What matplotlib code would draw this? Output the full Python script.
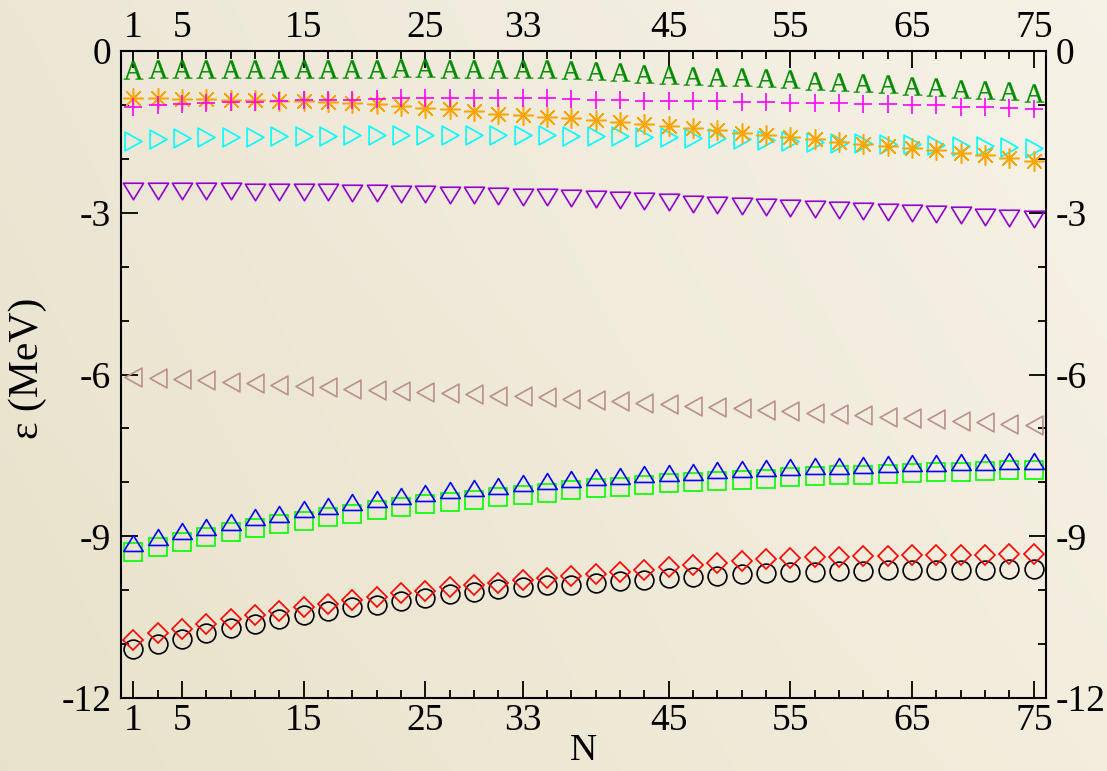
"""
Single-particle energies vs N: ten marker series on a Grace-style frame
with a warm beige gradient background. Saves out.png.
"""

import numpy as np
import matplotlib as mpl
mpl.use("Agg")
import matplotlib.pyplot as plt
from matplotlib.path import Path
from matplotlib.ticker import FixedLocator, MultipleLocator

# ---- data ----------------------------------------------------------------
n_vals = list(range(1, 76, 2))

black_circles = [-11.10, -10.99, -10.91, -10.79, -10.70, -10.62, -10.53, -10.46,
                 -10.38, -10.32, -10.27, -10.20, -10.14, -10.08, -10.03, -9.98,
                 -9.95, -9.91, -9.90, -9.86, -9.83, -9.81, -9.78, -9.75, -9.73,
                 -9.70, -9.69, -9.67, -9.66, -9.65, -9.64, -9.63, -9.63, -9.62,
                 -9.62, -9.62, -9.61, -9.60]
red_diamonds = [-10.92, -10.80, -10.72, -10.62, -10.54, -10.46, -10.38, -10.31,
                -10.25, -10.19, -10.12, -10.06, -10.01, -9.95, -9.91, -9.86,
                -9.81, -9.77, -9.74, -9.70, -9.66, -9.62, -9.57, -9.53, -9.49,
                -9.46, -9.43, -9.41, -9.39, -9.38, -9.37, -9.36, -9.35, -9.35,
                -9.34, -9.34, -9.33, -9.33]
green_squares = [-9.30, -9.20, -9.10, -9.01, -8.93, -8.85, -8.77, -8.71, -8.64,
                 -8.58, -8.52, -8.46, -8.41, -8.36, -8.32, -8.27, -8.23, -8.19,
                 -8.14, -8.11, -8.08, -8.05, -8.02, -8.00, -7.97, -7.95, -7.93,
                 -7.91, -7.89, -7.87, -7.86, -7.84, -7.83, -7.81, -7.80, -7.79,
                 -7.78, -7.77]
blue_up = [-9.13, -9.02, -8.91, -8.82, -8.73, -8.65, -8.58, -8.50, -8.44, -8.37,
           -8.31, -8.25, -8.20, -8.15, -8.10, -8.06, -8.02, -7.98, -7.94, -7.91,
           -7.88, -7.85, -7.82, -7.80, -7.78, -7.76, -7.74, -7.72, -7.70, -7.69,
           -7.67, -7.66, -7.65, -7.64, -7.63, -7.62, -7.61, -7.60]
brown_left = [-6.04, -6.07, -6.09, -6.11, -6.14, -6.16, -6.19, -6.21, -6.24,
              -6.26, -6.28, -6.30, -6.32, -6.34, -6.37, -6.39, -6.40, -6.42,
              -6.45, -6.47, -6.50, -6.53, -6.55, -6.58, -6.61, -6.63, -6.65,
              -6.68, -6.71, -6.73, -6.75, -6.78, -6.80, -6.83, -6.86, -6.89,
              -6.91, -6.93]
violet_down = [-2.59, -2.59, -2.60, -2.60, -2.60, -2.61, -2.61, -2.62, -2.62,
               -2.63, -2.64, -2.65, -2.66, -2.67, -2.68, -2.69, -2.70, -2.71,
               -2.73, -2.75, -2.76, -2.78, -2.80, -2.83, -2.85, -2.87, -2.89,
               -2.91, -2.93, -2.95, -2.97, -2.99, -3.01, -3.03, -3.05, -3.07,
               -3.09, -3.11]
cyan_right = [-1.67, -1.64, -1.62, -1.60, -1.60, -1.59, -1.58, -1.58, -1.57,
              -1.56, -1.56, -1.56, -1.55, -1.55, -1.55, -1.55, -1.56, -1.56,
              -1.57, -1.58, -1.58, -1.59, -1.60, -1.61, -1.62, -1.64, -1.65,
              -1.66, -1.68, -1.70, -1.71, -1.72, -1.73, -1.74, -1.76, -1.77,
              -1.78, -1.79]
orange_stars = [-0.88, -0.88, -0.89, -0.89, -0.90, -0.91, -0.92, -0.93, -0.94,
                -0.96, -0.98, -1.02, -1.06, -1.08, -1.12, -1.16, -1.19, -1.22,
                -1.25, -1.28, -1.31, -1.35, -1.39, -1.43, -1.47, -1.52, -1.56,
                -1.60, -1.64, -1.68, -1.73, -1.76, -1.80, -1.84, -1.89, -1.93,
                -1.98, -2.04]
magenta_plus = [-1.03, -1.01, -0.99, -0.97, -0.95, -0.94, -0.93, -0.91, -0.91,
                -0.90, -0.89, -0.88, -0.87, -0.87, -0.87, -0.88, -0.88, -0.88,
                -0.89, -0.90, -0.91, -0.92, -0.93, -0.93, -0.93, -0.94, -0.95,
                -0.96, -0.96, -0.97, -0.98, -0.99, -1.00, -1.01, -1.03, -1.04,
                -1.05, -1.07]
green_a = [-0.35, -0.34, -0.34, -0.34, -0.33, -0.33, -0.33, -0.33, -0.33, -0.33,
           -0.33, -0.32, -0.32, -0.33, -0.33, -0.33, -0.34, -0.34, -0.35, -0.37,
           -0.39, -0.42, -0.44, -0.47, -0.48, -0.49, -0.51, -0.52, -0.55, -0.57,
           -0.60, -0.62, -0.64, -0.67, -0.70, -0.73, -0.75, -0.78]

x_major = [1, 5, 15, 25, 33, 45, 55, 65, 75]
y_major = [0, -3, -6, -9, -12]


def tri(direction, w=1.0, h=0.82):
    """Closed triangle path; Grace triangles are a bit flatter than mpl's."""
    if direction == "up":
        v = [(-w, -h), (w, -h), (0, h)]
    elif direction == "down":
        v = [(-w, h), (w, h), (0, -h)]
    elif direction == "left":
        v = [(h, -w), (h, w), (-h, 0)]
    else:
        v = [(-h, -w), (-h, w), (h, 0)]
    v.append(v[0])
    return Path(v, closed=True)


plt.rcParams.update({
    "font.family": ["Liberation Serif", "DejaVu Serif"],
    "mathtext.fontset": "custom",
    "mathtext.rm": "Liberation Serif",
    "axes.unicode_minus": False,
    "font.size": 27,
})

fig = plt.figure(figsize=(11.07, 7.71), dpi=100)

# beige gradient background
bg = fig.add_axes([0, 0, 1, 1], zorder=-10)
bg.axis("off")
tl = np.array([0.925, 0.905, 0.835])
tr = np.array([0.965, 0.950, 0.905])
bl = np.array([0.912, 0.886, 0.795])
br = np.array([0.950, 0.930, 0.865])
u = np.linspace(0, 1, 200)[None, :, None]
v = np.linspace(0, 1, 140)[:, None, None]
grad = (1 - v) * ((1 - u) * tl + u * tr) + v * ((1 - u) * bl + u * br)
bg.imshow(grad, aspect="auto", extent=[0, 1, 0, 1], interpolation="bilinear")

ax = fig.add_axes([121 / 1107, 1 - 698 / 771, 925 / 1107, 647 / 771])
ax.patch.set_alpha(0)

hollow = dict(ls="none", fillstyle="none", mew=1.2)
ax.plot(n_vals, black_circles, marker="o", ms=13.5, color="black", **hollow)
ax.plot(n_vals, red_diamonds, marker="D", ms=9.8, color="#ff0000", **hollow)
ax.plot(n_vals, green_squares, marker="s", ms=12.5, color="#00ff00", **hollow)
ax.plot(n_vals, blue_up, marker=tri("up"), ms=14, color="#0000ff", **hollow)
ax.plot(n_vals, brown_left, marker=tri("left", 1.0, 0.9), ms=13.5,
        color="#bc8f8f", **hollow)
ax.plot(n_vals, violet_down, marker=tri("down"), ms=14.5, color="#9400d3", **hollow)
ax.plot(n_vals, cyan_right, marker=tri("right", 1.0, 0.9), ms=13.5,
        color="#00ffff", **hollow)
ax.plot(n_vals, orange_stars, ls="none", marker=(8, 2, 0), ms=14.5,
        color="#ffa500", mew=1.1)
ax.plot(n_vals, magenta_plus, ls="none", marker="+", ms=13.5,
        color="#ff00ff", mew=1.2)
ax.plot(n_vals, green_a, ls="none", marker=r"$\mathrm{A}$", ms=14,
        color="#008b00", mew=0.2)

ax.set_xlim(0, 76)
ax.set_ylim(-12, 0)
ax.xaxis.set_major_locator(FixedLocator(x_major))
ax.xaxis.set_minor_locator(FixedLocator(n_vals))
ax.yaxis.set_major_locator(FixedLocator(y_major))
ax.yaxis.set_minor_locator(MultipleLocator(1))

for s in ax.spines.values():
    s.set_linewidth(1.5)
ax.tick_params(which="both", direction="in", top=True, right=True,
               labeltop=True, labelright=True, width=1.3, labelsize=27)
ax.tick_params(which="major", length=12)
ax.tick_params(which="minor", length=6)
ax.tick_params(axis="x", pad=4)
ax.tick_params(axis="y", pad=7)

fig.text(28 / 1107, 1 - 368 / 771, "ε (MeV)", rotation=90, ha="center",
         va="center", fontsize=30)
fig.text(583 / 1107, 3 / 771, "N", ha="center", va="bottom", fontsize=27)

fig.savefig("out.png", dpi=100)
